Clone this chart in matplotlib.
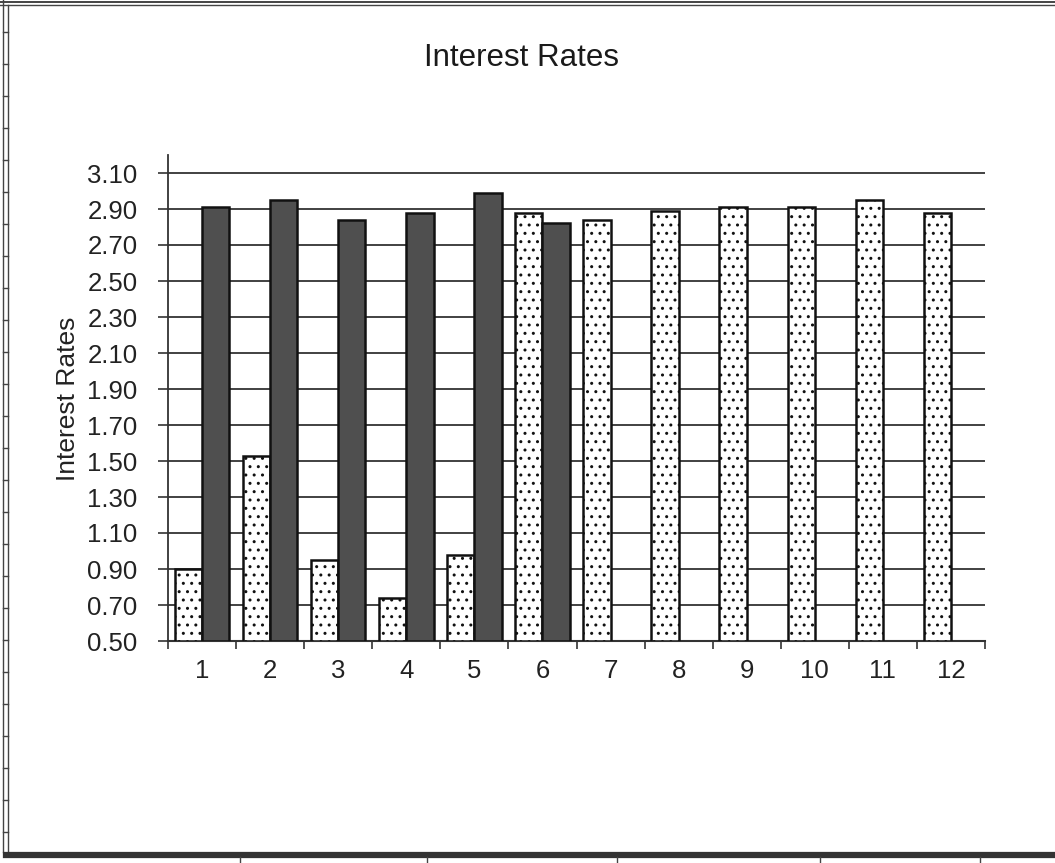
import numpy as np
import matplotlib
matplotlib.use("Agg")
import matplotlib.pyplot as plt
from matplotlib.lines import Line2D

plt.rcParams['font.family'] = ['Liberation Sans', 'DejaVu Sans']
plt.rcParams['hatch.linewidth'] = 1.0

# monthly rates, two series (second one stops after month 6)
months = [1, 2, 3, 4, 5, 6, 7, 8, 9, 10, 11, 12]
rates_a = [0.90, 1.53, 0.95, 0.74, 0.98, 2.88, 2.84, 2.89, 2.91, 2.91, 2.95, 2.88]
rates_b = [2.91, 2.95, 2.84, 2.88, 2.99, 2.82]
y_ticks = [0.50, 0.70, 0.90, 1.10, 1.30, 1.50, 1.70, 1.90, 2.10, 2.30, 2.50, 2.70, 2.90, 3.10]

W, H = 1055, 863
fig = plt.figure(figsize=(W / 100, H / 100), dpi=100)
fig.patch.set_facecolor('white')

ax = fig.add_axes([168 / W, (H - 641) / H, (985 - 168) / W, (641 - 155) / H])

x = np.array(months, dtype=float)
bw = 0.4
base = 0.5
ax.bar(x - bw / 2, np.array(rates_a) - base, bottom=base, width=bw,
       facecolor='white', edgecolor='#111111', linewidth=1.8, hatch='..', zorder=3)
xb = x[:len(rates_b)]
ax.bar(xb + bw / 2, np.array(rates_b) - base, bottom=base, width=bw,
       facecolor='#4f4f4f', edgecolor='#111111', linewidth=1.8, zorder=3)

ax.set_xlim(0.5, 12.5)
ax.set_ylim(0.5, 3.2)

ax.set_yticks(y_ticks)
ax.set_yticklabels([f'{v:.2f}' for v in y_ticks])
ax.set_xticks(months)
ax.set_xticklabels([str(m) for m in months])
ax.set_xticks(np.arange(0.5, 13.0, 1.0), minor=True)

for v in y_ticks:
    ax.axhline(v, color='#333333', linewidth=1.3, zorder=1)

ax.tick_params(axis='y', direction='out', length=7, width=1.2, color='#333333',
               labelsize=18.5, pad=15, labelcolor='#222222')
ax.tick_params(axis='x', which='major', length=0, labelsize=18.5, pad=13,
               labelcolor='#222222')
ax.tick_params(axis='x', which='minor', direction='out', length=6, width=1.2,
               color='#333333')

for s in ['top', 'right']:
    ax.spines[s].set_visible(False)
ax.spines['left'].set_color('#333333')
ax.spines['left'].set_linewidth(1.3)
ax.spines['bottom'].set_color('#333333')
ax.spines['bottom'].set_linewidth(1.5)

fig.text(522 / W, 1 - 58 / H, 'Interest Rates', ha='center', va='center',
         fontsize=22.5, color='#1a1a1a')
fig.text(68 / W, 1 - 399 / H, 'Interest Rates', ha='center', va='center',
         rotation=90, fontsize=19, color='#222222')


# sheet frame around the chart
def px_line(xs, ys, lw, color='#444444'):
    fig.add_artist(Line2D([v / W for v in xs], [1 - v / H for v in ys],
                          transform=fig.transFigure, linewidth=lw, color=color))


px_line([0, W], [2, 2], 1.4)
px_line([0, W], [5, 5], 1.0)
px_line([3, 3], [0, 852], 1.0)
px_line([8, 8], [5, 852], 1.0)
for yy in range(32, 850, 32):
    px_line([3, 8], [yy, yy], 1.0)
px_line([6, W], [855, 855], 4.5, '#333333')
for xx in [240, 427, 617, 820, 980]:
    px_line([xx, xx], [857, H], 1.0)

fig.savefig('out.png', dpi=100, facecolor='white')
